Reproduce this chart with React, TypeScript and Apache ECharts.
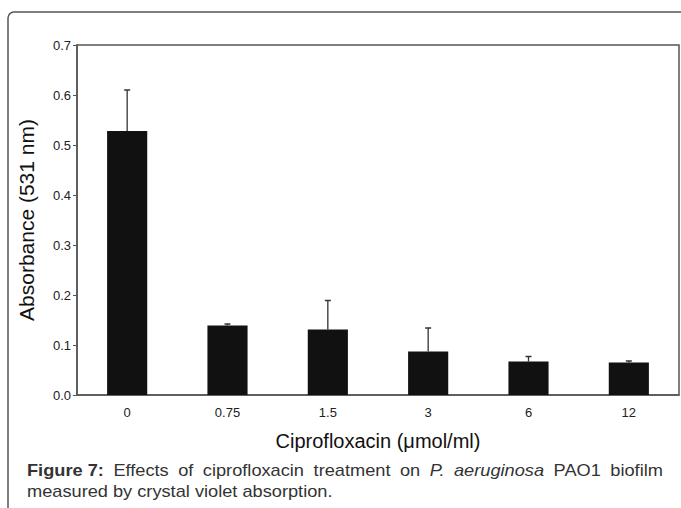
import React, { useEffect, useRef } from "react";
import * as echarts from "echarts";

const categories = ["0", "0.75", "1.5", "3", "6", "12"];
const means = [0.528, 0.139, 0.131, 0.087, 0.067, 0.065];
const errors = [0.082, 0.003, 0.058, 0.047, 0.01, 0.003];
const yMin = 0;
const yMax = 0.7;
const yStep = 0.1;

const xAxisTitle = "Ciprofloxacin (\u03bcmol/ml)";
const yAxisTitle = "Absorbance (531 nm)";

const captionLine1 = [
  { t: "Figure 7:", w: "bold", s: "normal" },
  { t: "Effects", w: "normal", s: "normal" },
  { t: "of", w: "normal", s: "normal" },
  { t: "ciprofloxacin", w: "normal", s: "normal" },
  { t: "treatment", w: "normal", s: "normal" },
  { t: "on", w: "normal", s: "normal" },
  { t: "P.", w: "normal", s: "italic" },
  { t: "aeruginosa", w: "normal", s: "italic" },
  { t: "PAO1", w: "normal", s: "normal" },
  { t: "biofilm", w: "normal", s: "normal" },
];
const captionLine2 = "measured by crystal violet absorption.";

export default function App() {
  const ref = useRef<HTMLDivElement>(null);
  useEffect(() => {
    if (!ref.current) return;
    const chart = echarts.init(ref.current, null, { renderer: "svg" });
    const FS = 16;
    const FAM = '"Liberation Sans", Arial, sans-serif';
    const canvas = document.createElement("canvas");
    const ctx = canvas.getContext("2d")!;
    const meas = (t: string, weight: string, style: string) => {
      ctx.font = `${style} ${weight} ${FS}px ${FAM}`;
      return ctx.measureText(t).width;
    };
    const capLeft = 27;
    const capRight = 663;
    const line2Target = 306;
    const w2 = meas(captionLine2, "normal", "normal");
    const sx = line2Target / w2;
    const widths = captionLine1.map((w) => meas(w.t, w.w, w.s) * sx);
    const total = widths.reduce((a, b) => a + b, 0);
    const gap = (capRight - capLeft - total) / (captionLine1.length - 1);
    const capElems: any[] = [];
    let cx = capLeft;
    captionLine1.forEach((w, i) => {
      capElems.push({
        type: "text",
        x: cx,
        y: 470,
        scaleX: sx,
        style: {
          text: w.t,
          font: `${w.s} ${w.w} ${FS}px ${FAM}`,
          fill: "#333",
          textAlign: "left",
          textVerticalAlign: "middle",
        },
      });
      cx += widths[i] + gap;
    });
    capElems.push({
      type: "text",
      x: capLeft,
      y: 491,
      scaleX: sx,
      style: {
        text: captionLine2,
        font: `normal normal ${FS}px ${FAM}`,
        fill: "#333",
        textAlign: "left",
        textVerticalAlign: "middle",
      },
    });

    const errData = means.map((m, i) => [i, m, m + errors[i]]);

    chart.setOption({
      animation: false,
      backgroundColor: "#fff",
      grid: {
        left: 77,
        top: 45,
        right: 2,
        bottom: 113,
        show: true,
        borderColor: "#555",
        borderWidth: 1.5,
        backgroundColor: "transparent",
      },
      xAxis: {
        type: "category",
        data: categories,
        name: xAxisTitle,
        nameLocation: "middle",
        nameGap: 36,
        nameTextStyle: { fontSize: 20, color: "#111", fontFamily: FAM },
        axisLine: { lineStyle: { color: "#555", width: 1.5 } },
        axisTick: { show: false },
        axisLabel: { fontSize: 13, color: "#222", margin: 11, fontFamily: FAM },
      },
      yAxis: {
        type: "value",
        min: yMin,
        max: yMax,
        interval: yStep,
        name: yAxisTitle,
        nameLocation: "middle",
        nameGap: 40,
        nameTextStyle: { fontSize: 21, color: "#111", fontFamily: FAM },
        axisLine: { show: true, lineStyle: { color: "#555", width: 1.5 } },
        axisTick: { show: true, length: 4, lineStyle: { color: "#555", width: 1 } },
        splitLine: { show: false },
        axisLabel: {
          fontSize: 13,
          color: "#222",
          margin: 6,
          fontFamily: FAM,
          formatter: (v: number) => v.toFixed(1),
        },
      },
      series: [
        {
          type: "bar",
          data: means,
          barWidth: "40%",
          itemStyle: { color: "#111" },
          z: 2,
        },
        {
          type: "custom",
          data: errData,
          z: 3,
          renderItem: (params: any, api: any) => {
            const x = api.value(0);
            const base = api.coord([x, api.value(1)]);
            const top = api.coord([x, api.value(2)]);
            const cap = 3;
            return {
              type: "group",
              children: [
                {
                  type: "line",
                  shape: { x1: base[0], y1: base[1], x2: top[0], y2: top[1] },
                  style: { stroke: "#333", lineWidth: 1.3 },
                },
                {
                  type: "line",
                  shape: { x1: top[0] - cap, y1: top[1], x2: top[0] + cap, y2: top[1] },
                  style: { stroke: "#333", lineWidth: 1.5 },
                },
              ],
            };
          },
        },
      ],
      graphic: [
        {
          type: "rect",
          shape: { x: 8, y: 12, width: 690, height: 530, r: 6 },
          style: { fill: "none", stroke: "#555", lineWidth: 1.5 },
          z: -1,
        },
        ...capElems,
      ],
    });
    return () => chart.dispose();
  }, []);
  return (
    <div
      ref={ref}
      style={{ position: "fixed", left: 0, top: 0, width: 681, height: 508, background: "#fff" }}
    />
  );
}
